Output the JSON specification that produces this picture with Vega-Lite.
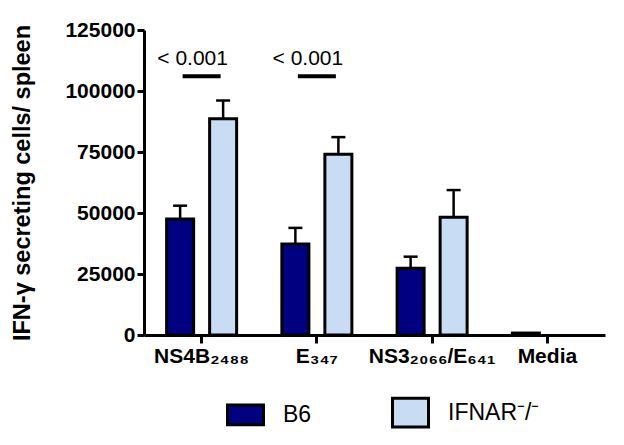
{
  "$schema": "https://vega.github.io/schema/vega-lite/v6.json",
  "width": 461,
  "height": 305,
  "autosize": "none",
  "padding": {"left": 144, "top": 30, "right": 19, "bottom": 110},
  "config": {"view": {"stroke": null}, "font": "Liberation Sans"},
  "datasets": {
    "bars": [
      {"group": "NS4B₂₄₈₈", "series": "B6", "value": 47500, "hi": 53000},
      {"group": "NS4B₂₄₈₈", "series": "IFNAR⁻/⁻", "value": 88600, "hi": 96100},
      {"group": "E₃₄₇", "series": "B6", "value": 37300, "hi": 43900},
      {"group": "E₃₄₇", "series": "IFNAR⁻/⁻", "value": 74100, "hi": 81100},
      {"group": "NS3₂₀₆₆/E₆₄₁", "series": "B6", "value": 27400, "hi": 32100},
      {"group": "NS3₂₀₆₆/E₆₄₁", "series": "IFNAR⁻/⁻", "value": 48300, "hi": 59400},
      {"group": "Media", "series": "B6", "value": 800, "hi": 800}
    ],
    "sig": [
      {"group": "NS4B₂₄₈₈", "line": 106000, "texty": 110500, "label": "< 0.001"},
      {"group": "E₃₄₇", "line": 106000, "texty": 110500, "label": "< 0.001"}
    ]
  },
  "layer": [
    {
      "data": {"name": "bars"},
      "mark": {"type": "bar", "stroke": "black", "strokeWidth": 3},
      "encoding": {
        "x": {
          "field": "group", "type": "nominal",
          "sort": ["NS4B₂₄₈₈", "E₃₄₇", "NS3₂₀₆₆/E₆₄₁", "Media"],
          "scale": {"domain": ["NS4B₂₄₈₈", "E₃₄₇", "NS3₂₀₆₆/E₆₄₁", "Media"], "paddingInner": 0, "paddingOuter": 0},
          "axis": {
            "title": null, "labelAngle": 0, "labelFontSize": 21, "labelFontWeight": "bold",
            "labelColor": "black", "labelPadding": 2, "tickSize": 8, "tickWidth": 3,
            "tickColor": "black", "domainColor": "black", "domainWidth": 3
          }
        },
        "xOffset": {
          "field": "series", "type": "nominal", "sort": ["B6", "IFNAR⁻/⁻"],
          "scale": {"domain": ["B6", "IFNAR⁻/⁻"], "paddingInner": 0.372, "paddingOuter": 0.526}
        },
        "y": {
          "field": "value", "type": "quantitative",
          "scale": {"domain": [0, 125000], "nice": false},
          "axis": {
            "title": "IFN-γ secreting cells/ spleen", "titleFontSize": 23.5, "titleFontWeight": "bold",
            "titleColor": "black", "titleX": -122, "titleBaseline": "middle",
            "values": [0, 25000, 50000, 75000, 100000, 125000], "format": "d",
            "labelFontSize": 21, "labelFontWeight": "bold", "labelColor": "black", "labelPadding": 2,
            "tickSize": 7, "tickWidth": 3, "tickColor": "black",
            "domainColor": "black", "domainWidth": 3, "grid": false
          }
        },
        "fill": {
          "field": "series", "type": "nominal",
          "scale": {"domain": ["B6", "IFNAR⁻/⁻"], "range": ["#000080", "#c8ddf4"]},
          "legend": {
            "title": null, "orient": "none", "legendX": 82, "legendY": 363, "direction": "horizontal",
            "padding": 0, "labelFontSize": 23, "labelColor": "black", "labelOffset": 18, "columnPadding": 74,
            "symbolType": "M-1,-0.6H1V0.6H-1Z", "symbolSize": 1296, "symbolStrokeColor": "black",
            "symbolStrokeWidth": 3, "symbolOpacity": 1,
            "encode": {"symbols": {"update": {"shape": {"signal": "datum.value === 'B6' ? 'M-1,-0.55H1V0.55H-1Z' : 'M-1,-0.8H1V0.8H-1Z'"}}}}
          }
        }
      }
    },
    {
      "data": {"name": "bars"},
      "mark": {"type": "rule", "color": "black", "strokeWidth": 2.5},
      "encoding": {
        "x": {"field": "group", "type": "nominal", "sort": ["NS4B₂₄₈₈", "E₃₄₇", "NS3₂₀₆₆/E₆₄₁", "Media"]},
        "xOffset": {"field": "series", "type": "nominal", "sort": ["B6", "IFNAR⁻/⁻"]},
        "y": {"field": "value", "type": "quantitative"},
        "y2": {"field": "hi"}
      }
    },
    {
      "data": {"name": "bars"},
      "transform": [{"filter": "datum.hi > datum.value"}],
      "mark": {"type": "tick", "color": "black", "size": 14, "thickness": 2.5, "opacity": 1},
      "encoding": {
        "x": {"field": "group", "type": "nominal", "sort": ["NS4B₂₄₈₈", "E₃₄₇", "NS3₂₀₆₆/E₆₄₁", "Media"]},
        "xOffset": {"field": "series", "type": "nominal", "sort": ["B6", "IFNAR⁻/⁻"]},
        "y": {"field": "hi", "type": "quantitative"}
      }
    },
    {
      "data": {"name": "sig"},
      "mark": {"type": "tick", "color": "black", "size": 38, "thickness": 4, "opacity": 1},
      "encoding": {
        "x": {"field": "group", "type": "nominal", "sort": ["NS4B₂₄₈₈", "E₃₄₇", "NS3₂₀₆₆/E₆₄₁", "Media"]},
        "y": {"field": "line", "type": "quantitative"}
      }
    },
    {
      "data": {"name": "sig"},
      "mark": {"type": "text", "fontSize": 21, "color": "black", "baseline": "alphabetic", "dx": -9},
      "encoding": {
        "x": {"field": "group", "type": "nominal", "sort": ["NS4B₂₄₈₈", "E₃₄₇", "NS3₂₀₆₆/E₆₄₁", "Media"]},
        "y": {"field": "texty", "type": "quantitative"},
        "text": {"field": "label"}
      }
    }
  ]
}
